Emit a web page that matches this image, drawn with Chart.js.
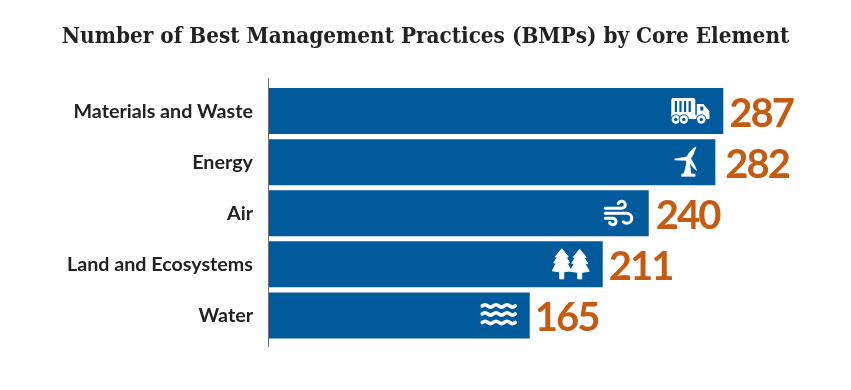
<!DOCTYPE html>
<html><head><meta charset="utf-8">
<style>html,body{margin:0;padding:0;background:#fff}#w{width:851px;height:390px}</style>
<script src="https://cdn.jsdelivr.net/npm/chart.js@4"></script></head>
<body><div id="w"><canvas id="c"></canvas></div>
<script>
const titleText = 'Number of Best Management Practices (BMPs) by Core Element';
const categories = ['Materials and Waste','Energy','Air','Land and Ecosystems','Water'];
const practiceCounts = [287,282,240,211,165];
const iconNames = ['truck','turbine','wind','trees','water'];
const BAR='#005a9c', LABEL='#c55a11', INK='#222222';

const icons = {
  truck(g){
    g.fillStyle='#fff';
    g.beginPath();g.roundRect(-18,-13,24,19,2);g.fill();
    g.fillStyle=BAR;
    for(let x=-14.5;x<3;x+=4.6)g.fillRect(x,-10,2.2,11);
    g.fillStyle='#fff';
    g.fillRect(-18,4,38,4);
    g.beginPath();g.moveTo(7.5,-7);g.lineTo(14,-7);g.lineTo(20,0);g.lineTo(20,8);g.lineTo(7.5,8);g.closePath();g.fill();
    g.fillStyle=BAR;g.fillRect(11,-4.5,3,4);
    for(const x of [-13.5,-5.5,12]){g.fillStyle=BAR;g.beginPath();g.arc(x,8.5,5.2,0,7);g.fill();
      g.fillStyle='#fff';g.beginPath();g.arc(x,8.5,4.2,0,7);g.fill();
      g.fillStyle=BAR;g.beginPath();g.arc(x,8.5,1.7,0,7);g.fill();}
  },
  turbine(g){
    g.fillStyle='#fff';
    g.beginPath();g.moveTo(2,-6);g.lineTo(-12,-3.5);g.lineTo(-12,-2);g.lineTo(2,-1.5);g.closePath();g.fill();
    g.beginPath();g.moveTo(0,-5);g.quadraticCurveTo(3,-12,10,-16);g.quadraticCurveTo(8,-8,4,-3);g.closePath();g.fill();
    g.beginPath();g.moveTo(1,-3);g.lineTo(4,-5);g.quadraticCurveTo(8,1,11,9);g.quadraticCurveTo(5,5,1,-3);g.closePath();g.fill();
    g.beginPath();g.moveTo(0,-3);g.lineTo(3,-3);g.lineTo(5,12);g.lineTo(-3,12);g.quadraticCurveTo(0,5,0,-3);g.closePath();g.fill();
    g.fillRect(-5,11.5,14,3);
  },
  wind(g){
    g.strokeStyle='#fff';g.lineWidth=3;g.lineCap='round';
    g.beginPath();g.moveTo(-13.5,-5);g.lineTo(3,-5);g.arc(3,-8.5,3.6,Math.PI/2,-Math.PI*0.9,true);g.stroke();
    g.beginPath();g.moveTo(-13.5,0);g.lineTo(8,0);g.arc(8,5,5,-Math.PI/2,Math.PI*0.75,false);g.stroke();
    g.beginPath();g.moveTo(-13.5,5);g.lineTo(-6,5);g.arc(-6,8.3,3.3,-Math.PI/2,Math.PI*0.9,false);g.stroke();
  },
  trees(g){
    g.fillStyle='#fff';g.strokeStyle='#fff';g.lineWidth=1;g.lineJoin='round';
    for(const x of [-9,9]){
      const y=x<0?0:0.5;
      g.beginPath();g.moveTo(x,-15.5+y);g.lineTo(x+6.5,-7.5+y);g.lineTo(x+4.5,-7+y);g.lineTo(x+8,-1.5+y);g.lineTo(x+5.5,-1+y);
      g.lineTo(x+9.5,6.5+y);g.lineTo(x+2,7.5+y);g.lineTo(x+2,14.5);g.lineTo(x-2,14.5);g.lineTo(x-2,7.5+y);g.lineTo(x-9.5,6.5+y);
      g.lineTo(x-5.5,-1+y);g.lineTo(x-8,-1.5+y);g.lineTo(x-4.5,-7+y);g.lineTo(x-6.5,-7.5+y);g.closePath();g.fill();g.stroke();
    }
  },
  water(g){
    g.strokeStyle='#fff';g.lineWidth=3.6;g.lineCap='round';
    for(const y of [-9.5,-1.5,7]){
      g.beginPath();g.moveTo(-16.5,y);
      for(let x=-16.5;x<16;x+=11){
        g.quadraticCurveTo(x+2.75,y-2.4,x+5.5,y);g.quadraticCurveTo(x+8.25,y+2.4,x+11,y);
      }
      g.stroke();
    }
  }
};
const iconOffsets = {truck:-34,turbine:-29,wind:-30,trees:-32,water:-31};
const labelGaps = {287:7,282:11,240:8,211:7,165:6};

const decor = {
  id:'decor',
  beforeDraw(ch){
    ch.scales.y.getLabelItems(ch.chartArea).forEach(it=>{
      if(!it.nudged){it.options.translation[1]+=0.5;it.nudged=true;}
    });
  },
  afterDatasetsDraw(ch){
    const {ctx:g,chartArea:a,scales:{x}}=ch, px=x.getPixelForValue(0), m=ch.getDatasetMeta(0);
    g.save();g.strokeStyle='#6d6e71';g.lineWidth=1;g.beginPath();
    g.moveTo(px+0.5,a.top-7.5);g.lineTo(px+0.5,a.bottom+6);g.stroke();g.restore();
    m.data.forEach((b,i)=>{
      const v=practiceCounts[i];
      g.save();g.font='700 40px Lato';g.letterSpacing='-2px';g.fillStyle=LABEL;g.textAlign='left';g.textBaseline='middle';
      g.fillText(String(v),b.x+labelGaps[v]-1,b.y+3);g.restore();
      const n=iconNames[i];
      g.save();g.translate(b.x+iconOffsets[n],b.y);icons[n](g);g.restore();
    });
  }
};

new Chart(document.getElementById('c'),{
  type:'bar',
  data:{labels:categories,datasets:[{data:practiceCounts,backgroundColor:BAR,borderWidth:0,categoryPercentage:1,barPercentage:0.9}]},
  options:{
    indexAxis:'y',responsive:true,maintainAspectRatio:false,animation:false,
    layout:{padding:{left:0,right:0,top:0,bottom:49}},
    plugins:{legend:{display:false},tooltip:{enabled:false},
      title:{display:true,text:titleText,color:INK,align:'center',
        font:{family:'"DejaVu Serif Condensed"',size:22.3,weight:'bold',lineHeight:1},
        padding:{top:26,bottom:37.2}}},
    scales:{
      x:{min:0,max:367.5,display:false},
      y:{grid:{display:false,drawTicks:false},border:{display:false},
        afterFit(s){s.width=268;},
        ticks:{color:INK,padding:15,font:{family:'Lato',size:19.7,weight:'700'}}}
    }
  },
  plugins:[decor]
});
</script></body></html>
